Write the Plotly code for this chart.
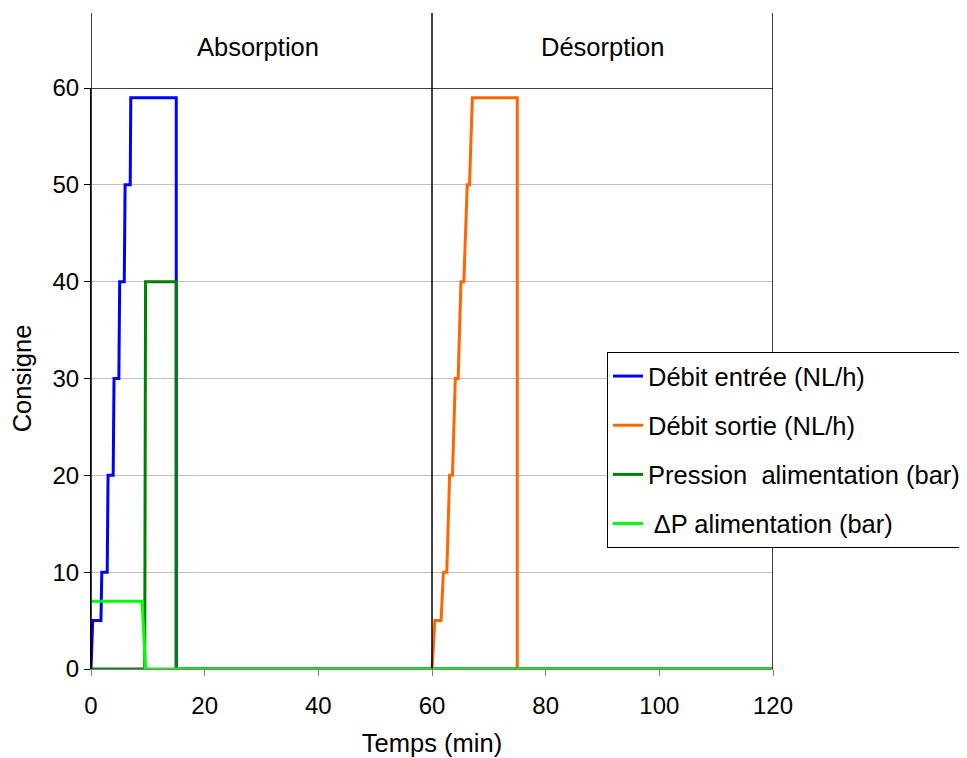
import plotly.graph_objects as go

# ---- data ----
debit_entree_t = [0, 0.3, 1.75, 1.9, 2.85, 3.0, 3.9, 4.05, 4.9, 5.05, 5.85, 6.0, 6.9, 7.0, 15, 15, 120]
debit_entree_v = [0, 5, 5, 10, 10, 20, 20, 30, 30, 40, 40, 50, 50, 59, 59, 0, 0]

debit_sortie_t = [60, 60.5, 61.6, 62.0, 62.6, 63.1, 63.6, 64.1, 64.6, 65.1, 65.6, 66.2, 66.6, 67.1, 75, 75, 120]
debit_sortie_v = [0, 5, 5, 10, 10, 20, 20, 30, 30, 40, 40, 50, 50, 59, 59, 0, 0]

pression_t = [0, 9.45, 9.6, 15, 15, 120]
pression_v = [0, 0, 40, 40, 0, 0]

dp_t = [0, 9.0, 9.6, 120]
dp_v = [7, 7, 0, 0]

phase_bounds = [0, 60, 120]
phase_labels = ["Absorption", "Désorption"]
phase_centers = [29.3, 90]

x_ticks = [0, 20, 40, 60, 80, 100, 120]
y_ticks = [0, 10, 20, 30, 40, 50, 60]

FONT = "Liberation Sans, Arial, sans-serif"
FS = 25.5
FT = 24

fig = go.Figure()
series = [
    ("Débit entrée (NL/h)", debit_entree_t, debit_entree_v, "#0000FF"),
    ("Débit sortie (NL/h)", debit_sortie_t, debit_sortie_v, "#FF6600"),
    ("Pression  alimentation (bar)", pression_t, pression_v, "#008000"),
    (" \u0394P alimentation (bar)", dp_t, dp_v, "#00FF00"),
]
for i, (name, t, v, c) in enumerate(series):
    fig.add_trace(go.Scatter(x=t, y=v, mode="lines", name=name,
                             line=dict(color=c, width=3),
                             legendgroup=f"g{i}"))

shapes = []
top_paper = (669 - 13) / 581.0
for b in phase_bounds:
    shapes.append(dict(type="line", xref="x", yref="paper", x0=b, x1=b,
                       y0=0, y1=top_paper, line=dict(color="black", width=1.5),
                       layer="above"))
shapes.append(dict(type="line", xref="x", yref="y", x0=phase_bounds[0], x1=phase_bounds[-1],
                   y0=60, y1=60, line=dict(color="black", width=1.5), layer="below"))

annotations = []
for lab, cx in zip(phase_labels, phase_centers):
    annotations.append(dict(x=cx, y=(669 - 47) / 581.0, xref="x", yref="paper",
                            xanchor="center", yanchor="middle",
                            text=lab, showarrow=False,
                            font=dict(size=FS, color="black", family=FONT)))

fig.update_layout(
    width=967, height=758,
    margin=dict(l=83, r=202, t=80, b=97, autoexpand=False),
    plot_bgcolor="white", paper_bgcolor="white",
    font=dict(family=FONT, size=FS, color="black"),
    shapes=shapes, annotations=annotations,
    showlegend=True,
    legend=dict(x=(607 - 91) / 682.0, y=(669 - 352) / 581.0,
                xanchor="left", yanchor="top",
                bgcolor="white", bordercolor="black", borderwidth=1,
                font=dict(size=FS, family=FONT, color="black"),
                tracegroupgap=13),
)
fig.update_xaxes(range=[0, 120], tickvals=x_ticks, showgrid=False, zeroline=False,
                 showline=True, linecolor="#808080", linewidth=1,
                 ticks="outside", ticklen=6, tickcolor="#808080",
                 ticklabelstandoff=9,
                 title=dict(text="Temps (min)", font=dict(size=FS), standoff=16),
                 tickfont=dict(size=FT))
fig.update_yaxes(range=[0, 60], tickvals=y_ticks, showgrid=True, gridcolor="#c0c0c0",
                 gridwidth=1, zeroline=False, showline=True, linecolor="black",
                 linewidth=1, ticks="outside", ticklen=6, tickcolor="black",
                 title=dict(text="Consigne", font=dict(size=FS), standoff=16),
                 tickfont=dict(size=FT))

fig.write_html("out.html")
